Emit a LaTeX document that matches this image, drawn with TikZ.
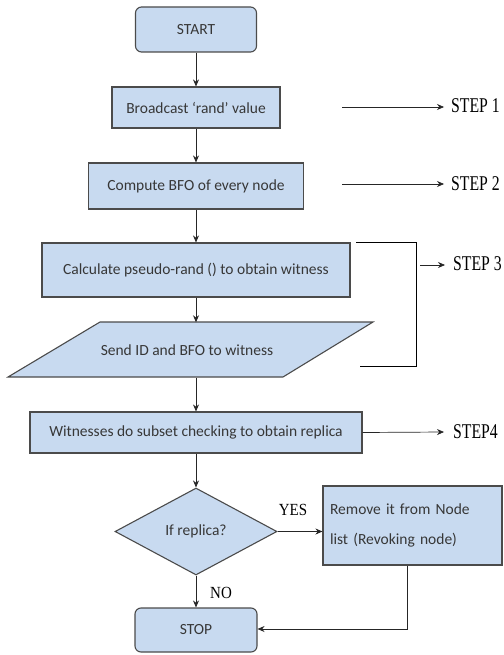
\documentclass[tikz,border=0pt]{standalone}
\usepackage{graphicx}
\usepackage{fontspec}
\setmainfont{Carlito}
\newfontfamily\stepfont{Liberation Serif}
\usetikzlibrary{shapes.geometric,arrows.meta,calc}
\definecolor{boxfill}{RGB}{200,218,240}
\definecolor{boxline}{RGB}{75,75,75}
\definecolor{boxtext}{RGB}{55,55,55}
\newcommand{\stepsc}[1]{\scalebox{0.75}[1]{#1}}
\newcommand{\ynsc}[1]{\scalebox{0.88}[1]{#1}}
\begin{document}
\begin{tikzpicture}[x=1pt,y=-1pt,
  box/.style={draw=boxline,line width=1.1pt,fill=boxfill,text=boxtext,inner sep=0pt,
    font=\fontsize{15.5}{18}\selectfont},
  term/.style={box,rounded corners=6pt},
  arr/.style={-{Stealth[length=7pt,width=6pt]},line width=0.8pt,draw=black!85},
  steplbl/.style={font=\stepfont\fontsize{21}{24}\selectfont,anchor=west,inner sep=0pt},
  ynlbl/.style={font=\stepfont\fontsize{17}{19}\selectfont,inner sep=0pt}]
\useasboundingbox (0,0) rectangle (503,655);
% nodes
\node[term,minimum width=121pt,minimum height=45pt] (start) at (196,29.5) {START};
\node[box,minimum width=168pt,minimum height=41pt] (bcast) at (196,107.5) {Broadcast `rand' value};
\node[box,minimum width=215pt,minimum height=46pt] (bfo) at (196,186) {Compute BFO of every node};
\node[box,minimum width=308pt,minimum height=54pt] (calc) at (196,270) {Calculate pseudo-rand () to obtain witness};
\fill[boxfill] (100,322) -- (373,322) -- (283,377) -- (8,377) -- cycle;
\draw[boxline,line width=1.1pt,line join=miter] (100,322) -- (373,322) -- (283,377) -- (8,377) -- cycle;
\node[minimum width=180pt,minimum height=55pt,inner sep=0pt,text=boxtext,font=\fontsize{15.5}{18}\selectfont] (send) at (187,350) {Send ID and BFO to witness};
\node[box,minimum width=332pt,minimum height=41pt] (wit) at (196,432.5) {Witnesses do subset checking to obtain replica};
\node[box,diamond,minimum width=162pt,minimum height=87pt,aspect=1.86] (dec) at (196,531.5) {If replica?};
\node[box,minimum width=179pt,minimum height=79pt,align=left,text width=165pt,
  font=\fontsize{15.5}{30}\selectfont] (rem) at (412.5,525.5) {Remove it from Node\\list (Revoking node)};
\node[term,minimum width=122pt,minimum height=44pt] (stop) at (196,630) {STOP};
% flow arrows
\draw[arr] (start) -- (bcast);
\draw[arr] (bcast) -- (bfo);
\draw[arr] (bfo) -- (calc);
\draw[arr] (calc.south) -- (calc.south |- send.north);
\draw[arr] (send.south -| wit.north) -- (wit.north);
\draw[arr] (wit) -- (dec);
\draw[arr] (dec.east) -- (dec.east -| rem.west);
\draw[arr] (dec) -- (stop);
\draw[arr] ([xshift=-5pt]rem.south) |- ([yshift=1pt]stop.east);
\node[ynlbl] (yes) at (293,510) {\ynsc{YES}};
\node[ynlbl] (no) at (221,593) {\ynsc{NO}};
% step labels
\node[steplbl] (s1) at (451,106) {\stepsc{STEP 1}};
\node[steplbl] (s2) at (451,184) {\stepsc{STEP 2}};
\node[steplbl] (s3) at (453,264) {\stepsc{STEP 3}};
\node[steplbl] (s4) at (453,432) {\stepsc{STEP4}};
\coordinate (s1a) at (342,107);
\coordinate (s2a) at (342,184);
\coordinate (s3a) at (420,265);
\draw[arr,line width=0.7pt] (s1a) -- ([xshift=-7pt]s1.west |- s1a);
\draw[arr,line width=0.7pt] (s2a) -- ([xshift=-7pt]s2.west |- s2a);
\draw[arr,line width=0.7pt] (s3a) -- ([xshift=-8pt]s3.west |- s3a);
\draw[arr,line width=0.7pt] (wit.east) -- ([xshift=-9pt]s4.west);
% bracket
\coordinate (b1) at (356,242);
\coordinate (b2) at (416,242);
\coordinate (b3) at (416,366);
\coordinate (b4) at (360,366);
\draw[line width=0.8pt] (b1) -- (b2) -- (b3) -- (b4);
\end{tikzpicture}
\end{document}
